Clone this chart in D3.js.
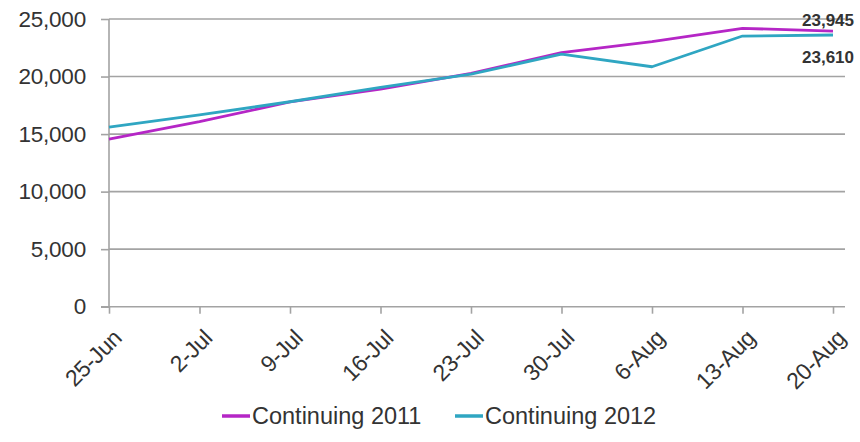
<!DOCTYPE html>
<html><head><meta charset="utf-8">
<script src="https://cdn.jsdelivr.net/npm/d3@7"></script>
<style>body{margin:0;background:#fff}svg{display:block}text{font-family:Arial,"Liberation Sans",sans-serif}</style>
</head><body><svg id="c" width="860" height="442"></svg>
<script>
const categories = ["25-Jun","2-Jul","9-Jul","16-Jul","23-Jul","30-Jul","6-Aug","13-Aug","20-Aug"];
const continuing2011 = [14570,16080,17790,18900,20280,22070,23030,24190,23945];
const continuing2012 = [15600,16660,17810,19050,20200,21950,20850,23520,23610];
const yTicks = [0,5000,10000,15000,20000,25000];
const seriesNames = ["Continuing 2011","Continuing 2012"];
const colors = ["#b526c6","#2fa6c2"];

const svg = d3.select("#c");
const x = d3.scalePoint().domain(categories).range([109,833]);
const y = d3.scaleLinear().domain([0,25000]).range([306.7,19]);
const fmt = d3.format(",");

// gridlines
svg.append("g").selectAll("line").data(yTicks.filter(d=>d>0)).join("line")
  .attr("x1",109).attr("x2",845).attr("y1",d=>y(d)).attr("y2",d=>y(d))
  .attr("stroke","#a3a3a3").attr("stroke-width",1.6);

// y axis
const ya = svg.append("g").attr("transform","translate(109,0)")
  .call(d3.axisLeft(y).tickValues(yTicks).tickFormat(fmt).tickSize(8).tickPadding(15));
ya.select(".domain").attr("stroke","#a3a3a3").attr("stroke-width",1.6).attr("d","M0,19V306.7");
ya.selectAll(".tick line").attr("stroke","#a3a3a3").attr("stroke-width",1.6);
ya.selectAll("text").attr("font-size",22.5).attr("fill","#333").attr("letter-spacing",-0.2);

// x axis
const xa = svg.append("g").attr("transform","translate(0,306.7)")
  .call(d3.axisBottom(x).tickSize(7));
xa.select(".domain").attr("stroke","#a3a3a3").attr("stroke-width",1.6).attr("d","M101,0H845");
xa.selectAll(".tick line").attr("stroke","#a3a3a3").attr("stroke-width",1.6);
xa.selectAll("text").attr("font-size",23).attr("fill","#333").attr("letter-spacing",-0.3)
  .attr("text-anchor","end").attr("dy","0.35em")
  .attr("transform","translate(8,27) rotate(-45)").attr("x",0).attr("y",0);

// lines
const line = d3.line().x((d,i)=>x(categories[i])).y(d=>y(d));
[continuing2011, continuing2012].forEach((s,k)=>{
  svg.append("path").datum(s).attr("d",line).attr("fill","none")
    .attr("stroke",colors[k]).attr("stroke-width",2.8).attr("stroke-linejoin","round");
});

// end labels
const last = categories.length-1;
svg.append("text").attr("x",854).attr("y",y(continuing2011[last])-5).attr("text-anchor","end")
  .attr("font-size",17).attr("font-weight","bold").attr("fill","#333").text(fmt(continuing2011[last]));
svg.append("text").attr("x",854).attr("y",y(continuing2012[last])+28).attr("text-anchor","end")
  .attr("font-size",17).attr("font-weight","bold").attr("fill","#333").text(fmt(continuing2012[last]));

// legend
const leg = [{x:222},{x:455}];
seriesNames.forEach((n,k)=>{
  const g = svg.append("g").attr("transform",`translate(${leg[k].x},416)`);
  g.append("line").attr("x1",0).attr("x2",28).attr("stroke",colors[k]).attr("stroke-width",3.5);
  g.append("text").attr("x",30).attr("dy","0.35em").attr("font-size",23.5).attr("fill","#333")
    .text(n);
});
</script></body></html>
